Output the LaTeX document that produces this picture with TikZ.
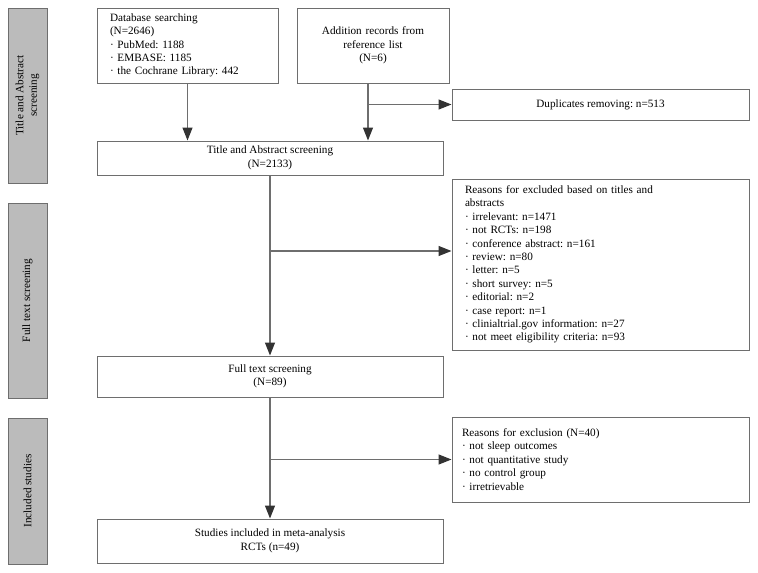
\documentclass[tikz,border=0pt]{standalone}
\usepackage{fontspec}
\setmainfont{Liberation Serif}
\usetikzlibrary{arrows.meta}
\definecolor{linegray}{HTML}{6E6E6E}
\definecolor{tipgray}{HTML}{333333}
\definecolor{bargray}{HTML}{BBBBBB}
\frenchspacing

\begin{document}
\begin{tikzpicture}[x=1pt,y=-1pt,
  box/.style={draw=linegray,line width=1pt,inner sep=0pt,
    font=\fontsize{11.2}{13.4}\selectfont},
  bar/.style={draw=linegray,fill=bargray,line width=1pt,inner sep=0pt,
    rotate=90,minimum height=39pt,align=center,
    font=\fontsize{11.2}{13.4}\selectfont},
  arr/.style={draw=linegray,line width=1.3pt,
    -{Triangle[length=13pt,width=10pt,color=tipgray]}}]
\fill[white] (0,0) rectangle (758,573);
\useasboundingbox (0,0) rectangle (758,573);
% stage bars
\node[bar,minimum width=175pt] (bar1) at (27.5,95.5) {Title and Abstract\\screening};
\node[bar,minimum width=195pt] (bar2) at (27.5,300.5) {Full text screening};
\node[bar,minimum width=146pt] (bar3) at (27.5,491) {Included studies};
% boxes
\node[box,text width=155pt,inner xsep=13pt,minimum height=75pt,align=left] (db) at (187.5,45.5)
  {Database searching\\(N=2646)\\· PubMed: 1188\\· EMBASE: 1185\\· the Cochrane Library: 442};
\node[box,text width=152pt,minimum height=75pt,align=center] (add) at (373,45.5)
  {Addition records from\\reference list\\(N=6)};
\node[box,minimum width=346pt,minimum height=34pt,align=center] (ta) at (270,158)
  {Title and Abstract screening\\(N=2133)};
\node[box,minimum width=297pt,minimum height=31pt] (dup) at (600.5,104.5)
  {Duplicates removing: n=513};
\node[box,text width=271pt,inner xsep=13pt,minimum height=171pt,align=left] (ex1) at (600.5,264.5)
  {Reasons for excluded based on titles and\\abstracts\\· irrelevant: n=1471\\· not RCTs: n=198\\
   · conference abstract: n=161\\· review: n=80\\· letter: n=5\\· short survey: n=5\\
   · editorial: n=2\\· case report: n=1\\· clinialtrial.gov information: n=27\\
   · not meet eligibility criteria: n=93};
\node[box,minimum width=346pt,minimum height=41pt,align=center] (ft) at (270,376.5)
  {Full text screening\\(N=89)};
\node[box,text width=277pt,inner xsep=10pt,minimum height=85pt,align=left] (ex2) at (600.5,459.5)
  {Reasons for exclusion (N=40)\\· not sleep outcomes\\· not quantitative study\\
   · no control group\\· irretrievable};
\node[box,minimum width=346pt,minimum height=44pt,align=center] (st) at (270,541)
  {Studies included in meta-analysis\\RCTs (n=49)};
% connectors
\coordinate (addout) at ([xshift=-5pt]add.south);
\coordinate (j1) at (270,251);
\draw[arr] (db.south) -- (db.south |- ta.north);
\draw[arr] (addout) -- (addout |- ta.north);
\draw[arr] (addout |- dup.west) -- (dup.west);
\draw[arr] (ta.south) -- (ft.north);
\draw[arr] (j1) -- (j1 -| ex1.west);
\draw[arr] (ft.south) -- (st.north);
\draw[arr] (ft.south |- ex2.west) -- (ex2.west);
\end{tikzpicture}
\end{document}
